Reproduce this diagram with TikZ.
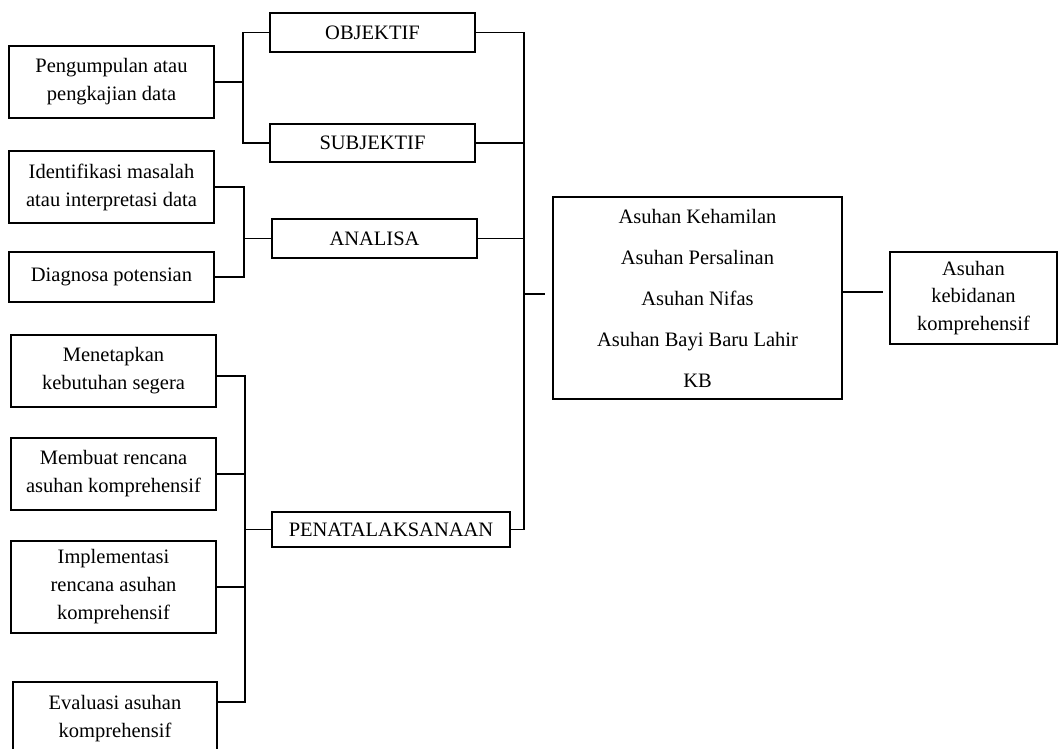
\documentclass[tikz,border=0pt]{standalone}
\usepackage{fontspec}
\setmainfont{Liberation Serif}
\begin{document}
\begin{tikzpicture}[x=1pt,y=-1pt,
  font=\fontsize{20.5}{28}\selectfont,
  box/.style={draw, line width=1.1pt, inner sep=2pt, align=center},
  conn/.style={line width=1.1pt}]
\useasboundingbox (0,0) rectangle (1058,749);
\fill[white] (0,0) rectangle (1058,749);
% left column
\node[box, minimum width=205pt, minimum height=72pt] (peng) at (111.5,82) {Pengumpulan atau\\pengkajian data};
\node[box, minimum width=205pt, minimum height=72pt] (iden) at (111.5,187) {Identifikasi masalah\\atau interpretasi data};
\node[box, minimum width=205pt, minimum height=50pt] (diag) at (111.5,277) {Diagnosa potensian};
\node[box, minimum width=205pt, minimum height=72pt] (mene) at (113.5,371) {Menetapkan\\kebutuhan segera};
\node[box, minimum width=205pt, minimum height=72pt] (memb) at (113.5,474) {Membuat rencana\\asuhan komprehensif};
\node[box, minimum width=205pt, minimum height=92pt] (impl) at (113.5,587) {Implementasi\\rencana asuhan\\komprehensif};
\node[box, minimum width=204pt, minimum height=74pt] (eval) at (115,719) {Evaluasi asuhan\\komprehensif};
% middle column
\node[box, minimum width=205pt, minimum height=39pt] (obj) at (372.5,32.5) {OBJEKTIF};
\node[box, minimum width=205pt, minimum height=38pt] (subj) at (372.5,143) {SUBJEKTIF};
\node[box, minimum width=205pt, minimum height=39pt] (anal) at (374.5,238.5) {ANALISA};
\node[box, minimum width=238pt, minimum height=35pt] (pena) at (391,529.5) {PENATALAKSANAAN};
% right
\node[box, minimum width=289pt, minimum height=202pt, font=\fontsize{20.5}{41}\selectfont] (big) at (697.5,298) {Asuhan Kehamilan\\Asuhan Persalinan\\Asuhan Nifas\\Asuhan Bayi Baru Lahir\\KB};
\node[box, minimum width=167pt, minimum height=92pt, font=\fontsize{20.5}{27.5}\selectfont] (rbox) at (973.5,298) {Asuhan\\kebidanan\\komprehensif};
% junctions
\coordinate (j1) at (243,82);
\coordinate (j2) at (244,238.5);
\coordinate (j3) at (245,529.5);
\coordinate (j4) at (524,294);
% connectors
\draw[conn] (obj.west) -| (j1) |- (subj.west);
\draw[conn] (peng.east) -- (j1);
\draw[conn] (iden.east) -| (j2) |- (diag.east);
\draw[conn] (j2) -- (anal.west);
\draw[conn] ([yshift=-5pt]mene.east) -| (j3) |- ([yshift=17pt]eval.east);
\draw[conn] (memb.east) -- (memb.east -| j3);
\draw[conn] (impl.east) -- (impl.east -| j3);
\draw[conn] (j3) -- (pena.west);
\draw[conn] (obj.east) -| (j4) |- (pena.east);
\draw[conn] (subj.east) -- (subj.east -| j4);
\draw[conn] (anal.east) -- (anal.east -| j4);
\draw[conn, shorten >=7pt] (j4) -- (j4 -| big.west);
\draw[conn, shorten >=6pt] ([yshift=6pt]big.east) -- ([yshift=6pt]rbox.west);
\end{tikzpicture}
\end{document}
